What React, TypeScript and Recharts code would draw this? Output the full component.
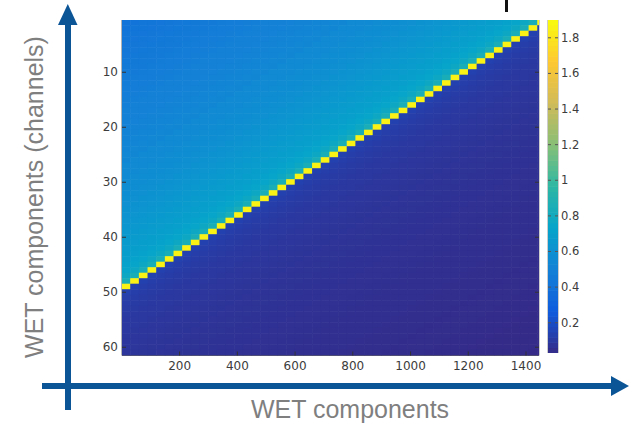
import React from 'react';
import { ScatterChart, Scatter, XAxis, YAxis } from 'recharts';

// tick labels
const xTicks = [200, 400, 600, 800, 1000, 1200, 1400];
const yTicks = [10, 20, 30, 40, 50, 60];
const cbTicks = [0.2, 0.4, 0.6, 0.8, 1, 1.2, 1.4, 1.6, 1.8];

// matrix layout: 61 channels x 1445 components, diagonal steps ~30 components per channel
const rowCount = 61;
const colMax = 1445;
const blockWidth = 30;
const diagRow = 49; // channel that holds the diagonal at the first block

// values, by distance (in blocks) from the diagonal
const diagValue = 1.86;
const aboveDiag = [
  0.84, 0.77, 0.74, 0.72, 0.7, 0.69, 0.68, 0.67, 0.66, 0.65,
  0.64, 0.63, 0.62, 0.61, 0.6, 0.59, 0.58, 0.575, 0.57, 0.56,
  0.555, 0.55, 0.54, 0.535, 0.53, 0.525, 0.52, 0.51, 0.505, 0.5,
  0.495, 0.49, 0.485, 0.48, 0.475, 0.47, 0.465, 0.46, 0.455, 0.45,
  0.445, 0.44, 0.435, 0.43, 0.425, 0.42, 0.415, 0.41,
];
const belowDiag = [
  0.14, 0.125, 0.115, 0.11, 0.105, 0.1, 0.097, 0.094, 0.091, 0.088,
  0.086, 0.084, 0.082, 0.08, 0.078, 0.076, 0.074, 0.072, 0.07, 0.068,
  0.067, 0.066, 0.065, 0.064, 0.063, 0.062, 0.061, 0.06, 0.059, 0.058,
  0.057, 0.056, 0.055, 0.054, 0.053, 0.052, 0.051, 0.05, 0.049, 0.048,
  0.047, 0.046, 0.045, 0.044, 0.043, 0.042, 0.041, 0.04, 0.039, 0.038,
  0.037, 0.036, 0.035, 0.035, 0.034, 0.034, 0.033, 0.033, 0.032, 0.032,
];

const cLim = [0.03, 1.9];
const cbSteps = 64;
const parula = ['#352A87', '#0F5CDD', '#1481D6', '#06A4CA', '#2EB7A4', '#87BF77', '#D1BB59', '#FEC832', '#F9FB0E'];

const hex = (h: string) => [1, 3, 5].map(i => parseInt(h.slice(i, i + 2), 16));
const colorOf = (v: number) => {
  const t = Math.min(1, Math.max(0, (v - cLim[0]) / (cLim[1] - cLim[0])));
  const p = t * (parula.length - 1);
  const i = Math.min(parula.length - 2, Math.floor(p));
  const f = p - i;
  const a = hex(parula[i]);
  const b = hex(parula[i + 1]);
  const c = a.map((ch, j) => Math.round(ch + (b[j] - ch) * f));
  return `rgb(${c[0]},${c[1]},${c[2]})`;
};

const cells: { x: number; y: number; span: number; fill: string }[] = [];
for (let r = 1; r <= rowCount; r++) {
  for (let k = 0; k * blockWidth < colMax; k++) {
    const x0 = Math.max(k * blockWidth, 0.5);
    const x1 = Math.min((k + 1) * blockWidth, colMax);
    const d = k - (diagRow - r);
    const v = d === 0 ? diagValue : d < 0 ? aboveDiag[-d - 1] : belowDiag[d - 1];
    cells.push({ x: (x0 + x1) / 2, y: r, span: x1 - x0, fill: colorOf(v) });
  }
}

// colour bar levels
const cbStep = (cLim[1] - cLim[0]) / cbSteps;
const cbCells = Array.from({ length: cbSteps }, (_, i) => {
  const v = cLim[0] + (i + 0.5) * cbStep;
  return { x: 0.5, y: v, fill: colorOf(v) };
});

const W = 629;
const H = 426;
const margin = { top: 20, right: 90, bottom: 40.5, left: 92 };
const plotW = W - margin.left - 30 - margin.right;
const plotH = H - margin.top - margin.bottom - 30;
const pxX = plotW / (colMax - 0.5);
const pxY = plotH / rowCount;

const cbMargin = { top: 20, right: 31, bottom: 73, left: 548 };
const cbW = W - cbMargin.left - cbMargin.right - 40;
const cbPx = (H - cbMargin.top - cbMargin.bottom) / (cLim[1] - cLim[0]);

const tickFont = { fontFamily: 'DejaVu Sans', fontSize: 12, fill: '#3c3c3c' };
const tickStroke = '#333';
const arrow = '#0b5597';

const CellRect = (props: any) => {
  const { cx, cy, payload } = props;
  const w = payload.span * pxX + 0.6;
  const h = pxY + 0.6;
  return <rect x={cx - w / 2} y={cy - h / 2} width={w} height={h} fill={payload.fill} />;
};

const CbRect = (props: any) => {
  const { cx, cy, payload } = props;
  const h = cbStep * cbPx + 0.6;
  return <rect x={cx - cbW / 2} y={cy - h / 2} width={cbW} height={h} fill={payload.fill} />;
};

const LeftTick = ({ x, y, payload }: any) => (
  <g>
    <line x1={x + 4} x2={x + 8} y1={y} y2={y} stroke={tickStroke} />
    <text x={x} y={y} dy={4} textAnchor="end" {...tickFont}>{payload.value}</text>
  </g>
);
const BottomTick = ({ x, y, payload }: any) => (
  <g>
    <line x1={x} x2={x} y1={y - 4} y2={y - 8} stroke={tickStroke} />
    <text x={x} y={y + 10} textAnchor="middle" {...tickFont}>{payload.value}</text>
  </g>
);
const TopTick = ({ x, y }: any) => <line x1={x} x2={x} y1={y} y2={y + 4} stroke={tickStroke} />;
const RightTick = ({ x, y }: any) => <line x1={x - 4} x2={x} y1={y} y2={y} stroke={tickStroke} />;
const CbTick = ({ x, y, payload }: any) => (
  <g>
    <line x1={x - 13} x2={x - 10} y1={y} y2={y} stroke="#555" />
    <line x1={x - 6} x2={x - 3} y1={y} y2={y} stroke="#555" />
    <text x={x} y={y} dy={4} {...tickFont} fontSize={11.5}>{payload.value}</text>
  </g>
);
const NoTick = () => <g />;

const App = () => {
  return (
    <div style={{ position: 'absolute', left: 0, top: 0, width: W, height: H, background: '#fff' }}>
      <div style={{ position: 'absolute', left: 0, top: 0 }}>
        <ScatterChart width={W} height={H} margin={margin}>
          <Scatter data={cells} dataKey="y" xAxisId="b" yAxisId="l" shape={CellRect} isAnimationActive={false} />
          <XAxis xAxisId="b" type="number" dataKey="x" domain={[0.5, colMax]} allowDataOverflow ticks={xTicks}
            interval={0} height={30} tickSize={0} tickMargin={4} tickLine={false} tick={<BottomTick />}
            axisLine={{ stroke: '#666' }} />
          <XAxis xAxisId="t" type="number" orientation="top" mirror domain={[0.5, colMax]} allowDataOverflow
            ticks={xTicks} interval={0} height={0} tickSize={0} tickMargin={0} tickLine={false} tick={<TopTick />}
            axisLine={{ stroke: '#666' }} />
          <YAxis yAxisId="l" type="number" dataKey="y" reversed domain={[0.5, rowCount + 0.5]} allowDataOverflow
            ticks={yTicks} interval={0} width={30} tickSize={0} tickMargin={4} tickLine={false} tick={<LeftTick />}
            axisLine={{ stroke: '#666' }} />
          <YAxis yAxisId="r" type="number" orientation="right" mirror reversed domain={[0.5, rowCount + 0.5]}
            allowDataOverflow ticks={yTicks} interval={0} width={1} tickSize={0} tickMargin={0} tickLine={false}
            tick={<RightTick />} axisLine={{ stroke: '#999' }} />
        </ScatterChart>
      </div>
      <div style={{ position: 'absolute', left: 0, top: 0 }}>
        <ScatterChart width={W} height={H} margin={cbMargin}>
          <Scatter data={cbCells} dataKey="y" xAxisId="b" yAxisId="r" shape={CbRect} isAnimationActive={false} />
          <XAxis xAxisId="b" type="number" dataKey="x" domain={[0, 1]} allowDataOverflow height={0} tickLine={false}
            tick={<NoTick />} axisLine={{ stroke: '#999' }} />
          <XAxis xAxisId="t" type="number" orientation="top" mirror domain={[0, 1]} height={0} tickLine={false}
            tick={<NoTick />} axisLine={{ stroke: '#999' }} />
          <YAxis yAxisId="l" type="number" mirror domain={cLim} width={1} tickLine={false} tick={<NoTick />}
            axisLine={{ stroke: '#999' }} />
          <YAxis yAxisId="r" type="number" dataKey="y" orientation="right" domain={cLim} allowDataOverflow
            ticks={cbTicks} interval={0} width={40} axisLine={{ stroke: '#999' }} tickLine={false} tickSize={0}
            tickMargin={3} tick={<CbTick />} />
        </ScatterChart>
      </div>
      <svg width={W} height={H} style={{ position: 'absolute', left: 0, top: 0 }}>
        <rect x={505} y={0} width={3} height={12} fill="#111" />
        <rect x={65} y={22} width={6} height={388} fill={arrow} />
        <polygon points="58,25 77.5,25 67.8,4" fill={arrow} />
        <rect x={42} y={383} width={572} height={6} fill={arrow} />
        <polygon points="611,376 611,396 629,386" fill={arrow} />
        <text x={350} y={418} textAnchor="middle" fontFamily="Liberation Sans" fontSize={25} fill="#7f7f7f">
          WET components
        </text>
        <text transform="translate(43,197) rotate(-90)" textAnchor="middle" fontFamily="Liberation Sans"
          fontSize={25} fill="#7f7f7f">
          WET components (channels)
        </text>
      </svg>
    </div>
  );
};

export default App;
